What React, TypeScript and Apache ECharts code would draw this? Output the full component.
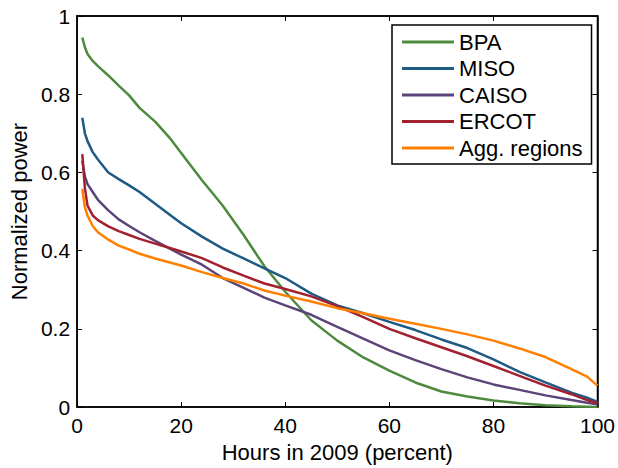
import React, { useEffect, useRef } from "react";
import * as echarts from "echarts";

const hours = [1, 1.5, 2, 3, 4, 6, 8, 10, 12, 15, 18, 20, 24, 28, 32, 36, 40, 45, 50, 55, 60, 65, 70, 75, 80, 85, 90, 95, 98, 100];
const bpa = [0.945, 0.92, 0.903, 0.885, 0.872, 0.848, 0.822, 0.797, 0.765, 0.73, 0.685, 0.65, 0.58, 0.515, 0.44, 0.36, 0.295, 0.222, 0.17, 0.127, 0.093, 0.063, 0.04, 0.027, 0.017, 0.01, 0.005, 0.002, 0.001, 0];
const miso = [0.74, 0.7, 0.68, 0.652, 0.633, 0.6, 0.583, 0.567, 0.55, 0.52, 0.49, 0.47, 0.436, 0.405, 0.38, 0.355, 0.33, 0.29, 0.26, 0.24, 0.218, 0.197, 0.173, 0.151, 0.122, 0.09, 0.063, 0.037, 0.024, 0.013];
const caiso = [0.63, 0.59, 0.57, 0.55, 0.53, 0.503, 0.48, 0.463, 0.447, 0.425, 0.404, 0.39, 0.364, 0.33, 0.305, 0.28, 0.26, 0.236, 0.205, 0.175, 0.145, 0.12, 0.097, 0.076, 0.058, 0.044, 0.03, 0.018, 0.011, 0.007];
const ercot = [0.647, 0.56, 0.515, 0.49, 0.478, 0.462, 0.45, 0.44, 0.43, 0.418, 0.406, 0.398, 0.381, 0.357, 0.336, 0.316, 0.302, 0.283, 0.258, 0.23, 0.2, 0.176, 0.153, 0.13, 0.105, 0.08, 0.055, 0.033, 0.018, 0.01];
const agg = [0.558, 0.51, 0.49, 0.463, 0.447, 0.428, 0.413, 0.403, 0.392, 0.38, 0.369, 0.362, 0.345, 0.33, 0.316, 0.298, 0.285, 0.27, 0.253, 0.24, 0.226, 0.213, 0.2, 0.186, 0.17, 0.15, 0.128, 0.097, 0.078, 0.055];

const seriesNames = ["BPA", "MISO", "CAISO", "ERCOT", "Agg. regions"];
const seriesValues = [bpa, miso, caiso, ercot, agg];
const seriesColors = ["#4e8a3e", "#1f5a84", "#5c4479", "#a3202f", "#ff8000"];

const FONT = "'Liberation Sans', Arial, Helvetica, sans-serif";

export default function App() {
  const ref = useRef<HTMLDivElement>(null);
  useEffect(() => {
    if (!ref.current) return;
    const chart = echarts.init(ref.current, null, { renderer: "svg" });
    const axisCommon = {
      type: "value" as const,
      axisLine: { show: true, onZero: false, lineStyle: { color: "#000000", width: 1.5, opacity: 1 } },
      axisTick: { show: true, inside: true, length: 5, lineStyle: { color: "#000000", width: 1 } },
      splitLine: { show: false },
    };
    chart.setOption({
      animation: false,
      backgroundColor: "#ffffff",
      textStyle: { fontFamily: FONT },
      grid: {
        left: 74,
        right: 18,
        top: 16,
        bottom: 58,
        containLabel: false,
        show: true,
        borderColor: "#000000",
        borderWidth: 1.5,
        backgroundColor: "rgba(0,0,0,0)",
      },
      legend: {
        orient: "vertical",
        left: 392,
        top: 25,
        data: seriesNames,
        icon: "rect",
        itemWidth: 52,
        itemHeight: 3,
        itemGap: 4.5,
        padding: [6, 9, 5, 10],
        borderColor: "#000000",
        borderWidth: 1.5,
        backgroundColor: "#ffffff",
        textStyle: { fontSize: 22, color: "#000", fontFamily: FONT, lineHeight: 22 },
      },
      xAxis: [
        {
          ...axisCommon,
          min: 0,
          max: 100,
          interval: 20,
          position: "bottom",
          name: "Hours in 2009 (percent)",
          nameLocation: "middle",
          nameGap: 27,
          nameTextStyle: { fontSize: 22, color: "#000", fontFamily: FONT },
          axisLabel: { fontSize: 21, color: "#000", margin: 8, fontFamily: FONT },
        },
        {
          ...axisCommon,
          min: 0,
          max: 100,
          interval: 20,
          position: "top",
          axisLabel: { show: false },
        },
      ],
      yAxis: [
        {
          ...axisCommon,
          min: 0,
          max: 1,
          interval: 0.2,
          position: "left",
          name: "Normalized power",
          nameLocation: "middle",
          nameGap: 46,
          nameTextStyle: { fontSize: 22, color: "#000", fontFamily: FONT },
          axisLabel: { fontSize: 21, color: "#000", margin: 7, fontFamily: FONT },
        },
        {
          ...axisCommon,
          min: 0,
          max: 1,
          interval: 0.2,
          position: "right",
          axisLabel: { show: false },
        },
      ],
      series: [
        ...seriesNames.map((name, i) => ({
          name,
          type: "line",
          xAxisIndex: 0,
          yAxisIndex: 0,
          showSymbol: false,
          symbol: "none",
          color: seriesColors[i],
          lineStyle: { color: seriesColors[i], width: 2.5 },
          data: hours.map((h, j) => [h, seriesValues[i][j]]),
        })),
        {
          name: "frame",
          type: "line",
          xAxisIndex: 1,
          yAxisIndex: 1,
          showSymbol: false,
          symbol: "none",
          silent: true,
          lineStyle: { opacity: 0 },
          data: [],
        },
      ],
    });
    return () => chart.dispose();
  }, []);
  return (
    <div
      ref={ref}
      style={{ position: "fixed", left: 0, top: 0, width: 618, height: 468 }}
    />
  );
}
